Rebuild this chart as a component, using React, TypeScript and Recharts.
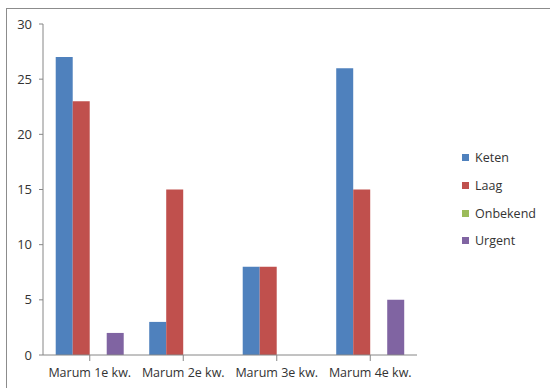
import { BarChart, Bar, XAxis, YAxis } from 'recharts';

const categories = ['Marum 1e kw.', 'Marum 2e kw.', 'Marum 3e kw.', 'Marum 4e kw.'];
const keten = [27, 3, 8, 26];
const laag = [23, 15, 8, 15];
const onbekend = [0, 0, 0, 0];
const urgent = [2, 0, 0, 5];
const yTicks = [0, 5, 10, 15, 20, 25, 30];

const SERIES = [
    { key: 'Keten', color: '#4F81BD' },
    { key: 'Laag', color: '#C0504D' },
    { key: 'Onbekend', color: '#9BBB59' },
    { key: 'Urgent', color: '#8064A2' },
];

const data = categories.map((name, i) => ({
    name,
    Keten: keten[i],
    Laag: laag[i],
    Onbekend: onbekend[i],
    Urgent: urgent[i],
}));

const FONT = '"Open Sans", sans-serif';
const TEXT = '#333333';
const AXIS = '#868686';

// legend sits to the right of the plot, outside the chart's layout
function SideLegend() {
    return (
        <div style={{ position: 'absolute', left: 462, top: 144, fontFamily: FONT, fontSize: 12.5, color: TEXT }}>
            {SERIES.map((s) => (
                <div key={s.key} style={{ display: 'flex', alignItems: 'center', height: 27.7 }}>
                    <span style={{ width: 7, height: 7, background: s.color, marginRight: 6 }} />
                    <span>{s.key}</span>
                </div>
            ))}
        </div>
    );
}

export default function App() {
    return (
        <div style={{ position: 'absolute', left: 0, top: 0, width: 550, height: 388, overflow: 'hidden' }}>
            <div
                style={{
                    position: 'absolute',
                    left: 6,
                    top: 8,
                    width: 600,
                    height: 400,
                    borderTop: '1px solid #8c8c8c',
                    borderLeft: '1px solid #8c8c8c',
                }}
            />
            <BarChart
                width={550}
                height={388}
                data={data}
                margin={{ top: 24, right: 133, bottom: 0, left: 0 }}
                barCategoryGap="13.6%"
                barGap={0}
            >
                <XAxis
                    dataKey="name"
                    height={33}
                    stroke={AXIS}
                    tickSize={6}
                    tickMargin={7}
                    tick={{ fill: TEXT, fontSize: 12.5, fontFamily: FONT }}
                    interval={0}
                />
                <YAxis
                    width={43}
                    domain={[0, 30]}
                    ticks={yTicks}
                    stroke={AXIS}
                    tickSize={4}
                    tickMargin={7}
                    tick={{ fill: TEXT, fontSize: 13, fontFamily: FONT }}
                />
                {SERIES.map((s) => (
                    <Bar key={s.key} dataKey={s.key} fill={s.color} isAnimationActive={false} />
                ))}
            </BarChart>
            <SideLegend />
        </div>
    );
}
